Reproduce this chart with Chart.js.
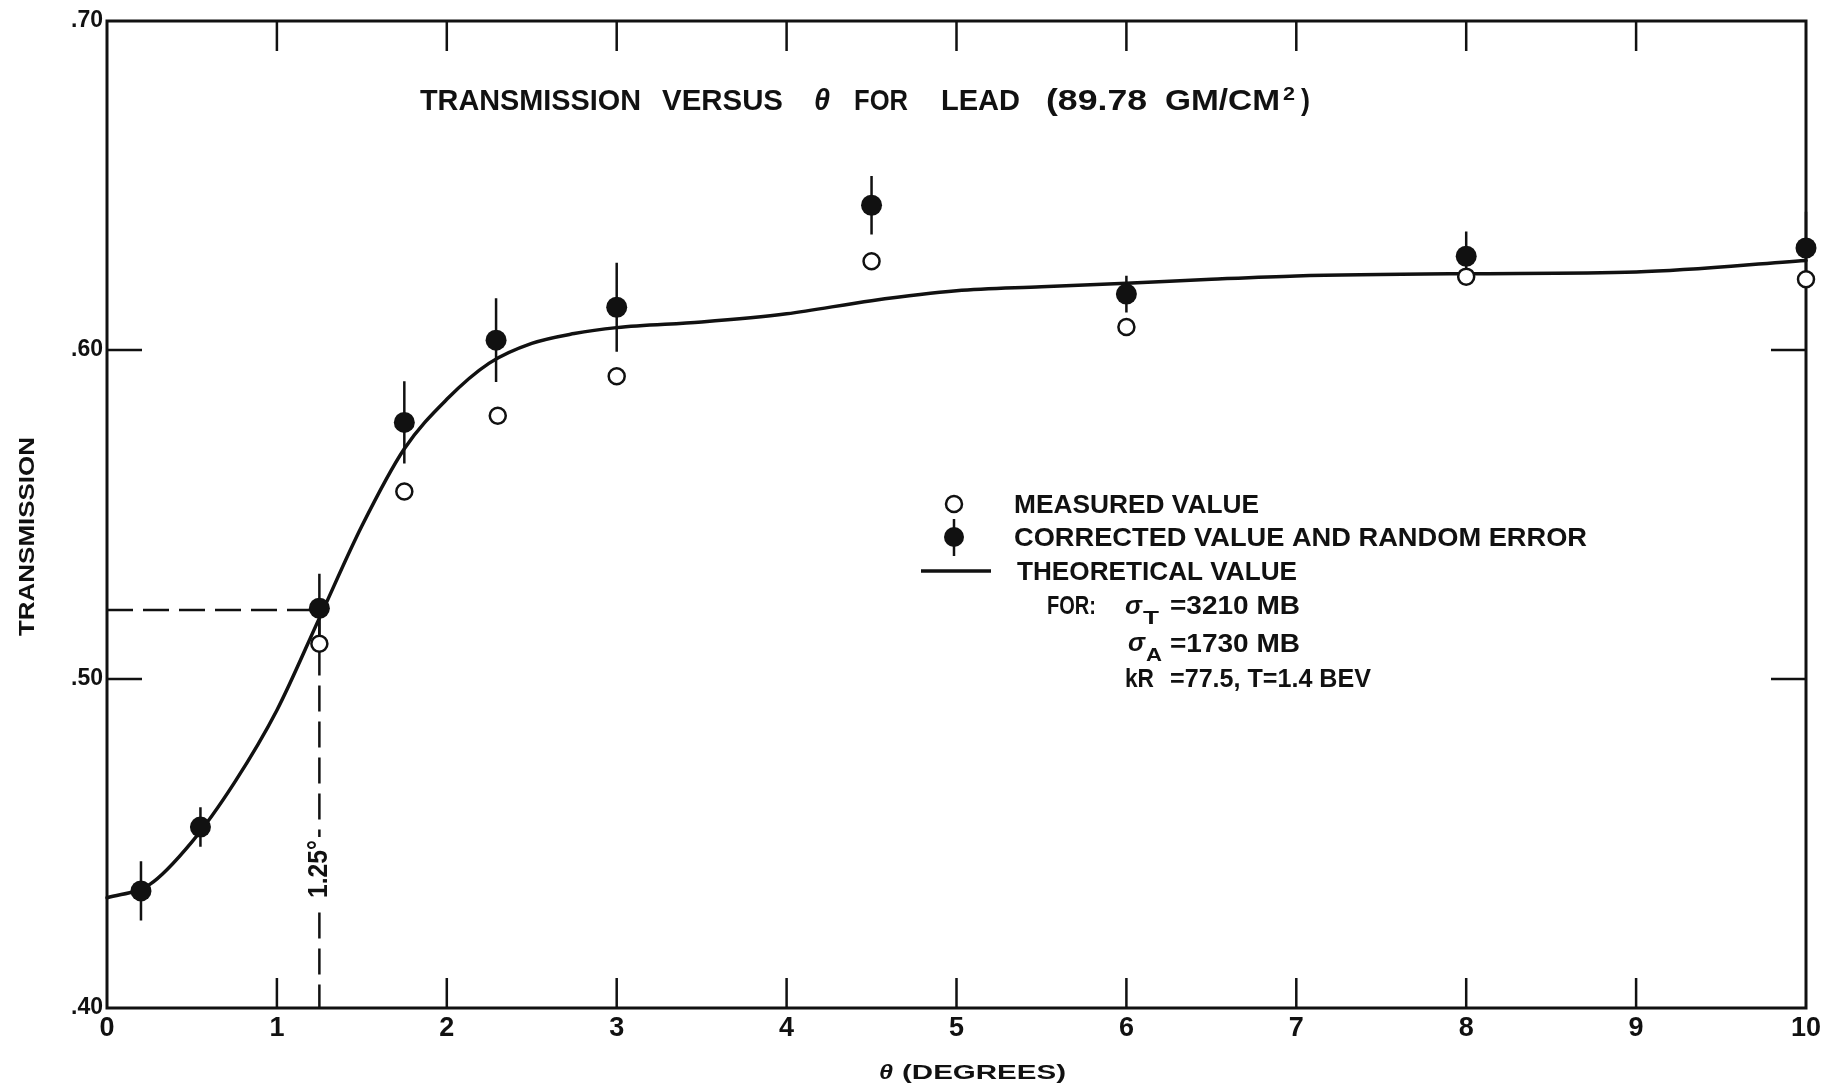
<!DOCTYPE html>
<html>
<head>
<meta charset="utf-8">
<title>Transmission versus θ for lead</title>
<script src="https://cdn.jsdelivr.net/npm/chart.js@4/dist/chart.umd.min.js"></script>
<style>
  html, body { margin: 0; padding: 0; background: #fff; }
  canvas { display: block; }
</style>
</head>
<body>
<canvas id="chart" width="1829" height="1086"></canvas>
<script>
// Corrected values with their random error (filled points)
const corrTheta = [0.20, 0.55, 1.25, 1.75, 2.29, 3.0, 4.5, 6.0, 8.0, 10.0];
const corrTrans = [0.4356, 0.455, 0.5215, 0.578, 0.603, 0.613, 0.644, 0.617, 0.6285, 0.631];
const corrError = [0.009, 0.006, 0.0105, 0.0125, 0.0127, 0.0135, 0.0089, 0.0056, 0.0075, 0.011];

// Measured values (open points)
const measTheta = [1.25, 1.75, 2.3, 3.0, 4.5, 6.0, 8.0, 10.0];
const measTrans = [0.5107, 0.557, 0.580, 0.592, 0.627, 0.607, 0.6223, 0.6215];

// Theoretical curve
const theoryTheta = [0, 0.25, 0.5, 0.75, 1.0, 1.25, 1.5, 1.75, 2.0, 2.25, 2.5, 2.75, 3.0,
                     3.5, 4.0, 4.5, 5.0, 5.5, 6.0, 6.5, 7.0, 8.0, 9.0, 10.0];
const theoryTrans = [0.4335, 0.4375, 0.4505, 0.4685, 0.4905, 0.5185, 0.5465, 0.5700, 0.5850,
                     0.5960, 0.6020, 0.6050, 0.6068, 0.6085, 0.6110, 0.6150, 0.6180, 0.6192,
                     0.6203, 0.6215, 0.6225, 0.6232, 0.6237, 0.6272];

// Half-way marker: θ = 1.25° at transmission 0.521;
// the vertical guide is broken where its "1.25°" label sits
const markTheta = 1.25;
const markTrans = 0.521;
const markLabelSpan = [0.452, 0.429];

// Axis ticks
const xTickValues = [0, 1, 2, 3, 4, 5, 6, 7, 8, 9, 10];
const xTickLabels = ['0', '1', '2', '3', '4', '5', '6', '7', '8', '9', '10'];
const yTickValues = [0.40, 0.50, 0.60, 0.70];
const yTickLabels = ['.40', '.50', '.60', '.70'];
const xInnerTicks = [1, 2, 3, 4, 5, 6, 7, 8, 9];
const yInnerTicks = [0.50, 0.60];

const INK = '#111';
const FONT = '"Liberation Sans", Arial, sans-serif';

// error bars: one segment per point, broken apart by null gaps
const errorSegments = [];
corrTheta.forEach((t, i) => {
  errorSegments.push({ x: t, y: corrTrans[i] - corrError[i] });
  errorSegments.push({ x: t, y: corrTrans[i] + corrError[i] });
  errorSegments.push({ x: t, y: null });
});

// text helper: draws a string, optionally squeezed/stretched to a width
function drawText(ctx, str, x, y, font, width, rotate) {
  ctx.save();
  ctx.font = font;
  ctx.fillStyle = INK;
  ctx.textAlign = 'left';
  ctx.textBaseline = 'alphabetic';
  const w = ctx.measureText(str).width;
  ctx.translate(x, y);
  if (rotate) ctx.rotate(rotate);
  if (width) ctx.scale(width / w, 1);
  ctx.fillText(str, 0, 0);
  ctx.restore();
}

// frame and inward tick marks
const framePlugin = {
  id: 'frame',
  beforeDatasetsDraw(chart) {
    const { ctx, chartArea: a, scales: { x, y } } = chart;
    ctx.save();
    ctx.strokeStyle = INK;
    ctx.lineWidth = 3;
    ctx.strokeRect(a.left, a.top, a.right - a.left, a.bottom - a.top);
    ctx.lineWidth = 2.5;
    ctx.beginPath();
    xInnerTicks.forEach(v => {
      const px = x.getPixelForValue(v);
      ctx.moveTo(px, a.bottom); ctx.lineTo(px, a.bottom - 30);
      ctx.moveTo(px, a.top); ctx.lineTo(px, a.top + 30);
    });
    yInnerTicks.forEach(v => {
      const py = y.getPixelForValue(v);
      ctx.moveTo(a.left, py); ctx.lineTo(a.left + 35, py);
      ctx.moveTo(a.right, py); ctx.lineTo(a.right - 35, py);
    });
    ctx.stroke();
    ctx.restore();
  }
};

// title, axis titles, key and annotations
const textPlugin = {
  id: 'texts',
  afterDraw(chart) {
    const ctx = chart.ctx;
    const B = 'bold 30px ' + FONT;
    // title
    drawText(ctx, 'TRANSMISSION', 420, 110, B, 221);
    drawText(ctx, 'VERSUS', 662, 110, B, 121);
    drawText(ctx, 'θ', 814, 110, 'italic bold 30px ' + FONT, 16);
    drawText(ctx, 'FOR', 854, 110, B, 54);
    drawText(ctx, 'LEAD', 941, 110, B, 79);
    drawText(ctx, '(89.78', 1046, 110, B, 101);
    drawText(ctx, 'GM/CM', 1165, 110, B, 115);
    drawText(ctx, '2', 1283, 100, 'bold 18px ' + FONT, 12);
    drawText(ctx, ')', 1301, 110, B, 9);

    // axis titles
    drawText(ctx, 'TRANSMISSION', 34, 636, 'bold 22px ' + FONT, 199, -Math.PI / 2);
    drawText(ctx, 'θ', 879, 1079, 'italic bold 21px ' + FONT, 14);
    drawText(ctx, '(DEGREES)', 902, 1079, 'bold 20px ' + FONT, 164);

    // angle label on the dashed marker
    const lx = chart.scales.x.getPixelForValue(markTheta) + 8;
    drawText(ctx, '1.25°', lx, 898, 'bold 28px ' + FONT, 58, -Math.PI / 2);

    // key
    ctx.save();
    ctx.strokeStyle = INK;
    ctx.fillStyle = '#fff';
    ctx.lineWidth = 2.5;
    ctx.beginPath(); ctx.arc(954, 504, 8, 0, Math.PI * 2); ctx.fill(); ctx.stroke();
    ctx.beginPath(); ctx.moveTo(954, 519); ctx.lineTo(954, 556); ctx.stroke();
    ctx.fillStyle = INK;
    ctx.beginPath(); ctx.arc(954, 537, 10, 0, Math.PI * 2); ctx.fill();
    ctx.lineWidth = 3.5;
    ctx.beginPath(); ctx.moveTo(921, 571); ctx.lineTo(991, 571); ctx.stroke();
    ctx.restore();

    const L = 'bold 25px ' + FONT;
    drawText(ctx, 'MEASURED VALUE', 1014, 513, L, 245);
    drawText(ctx, 'CORRECTED VALUE AND RANDOM ERROR', 1014, 546, L, 573);
    drawText(ctx, 'THEORETICAL VALUE', 1017, 580, L, 280);
    drawText(ctx, 'FOR:', 1047, 614, L, 49);
    drawText(ctx, 'σ', 1125, 614, 'italic bold 26px ' + FONT, 17);
    drawText(ctx, 'T', 1143, 624, 'bold 18px ' + FONT, 16);
    drawText(ctx, '=3210 MB', 1170, 614, L, 130);
    drawText(ctx, 'σ', 1128, 651, 'italic bold 26px ' + FONT, 17);
    drawText(ctx, 'A', 1146, 661, 'bold 18px ' + FONT, 16);
    drawText(ctx, '=1730 MB', 1170, 652, L, 130);
    drawText(ctx, 'kR', 1125, 687, L, 29);
    drawText(ctx, '=77.5, T=1.4 BEV', 1170, 687, L, 201);
  }
};

new Chart(document.getElementById('chart'), {
  type: 'scatter',
  data: {
    datasets: [
      {
        label: 'CORRECTED VALUE AND RANDOM ERROR',
        data: corrTheta.map((t, i) => ({ x: t, y: corrTrans[i] })),
        pointRadius: 10.5,
        pointBackgroundColor: INK,
        pointBorderColor: INK,
        pointBorderWidth: 0,
        clip: false,
        order: 0
      },
      {
        label: 'MEASURED VALUE',
        data: measTheta.map((t, i) => ({ x: t, y: measTrans[i] })),
        pointRadius: 8,
        pointBackgroundColor: '#fff',
        pointBorderColor: INK,
        pointBorderWidth: 2.5,
        clip: false,
        order: 1
      },
      {
        label: 'random error',
        type: 'line',
        data: errorSegments,
        borderColor: INK,
        borderWidth: 2.5,
        pointRadius: 0,
        spanGaps: false,
        clip: false,
        order: 2
      },
      {
        label: 'THEORETICAL VALUE',
        type: 'line',
        data: theoryTheta.map((t, i) => ({ x: t, y: theoryTrans[i] })),
        borderColor: INK,
        borderWidth: 3.5,
        pointRadius: 0,
        cubicInterpolationMode: 'monotone',
        tension: 0.4,
        borderCapStyle: 'round',
        clip: false,
        order: 3
      },
      {
        label: '1.25°',
        type: 'line',
        data: [
          { x: 0, y: markTrans },
          { x: markTheta, y: markTrans },
          { x: markTheta, y: markLabelSpan[0] },
          { x: markTheta, y: null },
          { x: markTheta, y: markLabelSpan[1] },
          { x: markTheta, y: 0.40 }
        ],
        borderColor: INK,
        borderWidth: 2.5,
        borderDash: [26, 10],
        pointRadius: 0,
        tension: 0,
        spanGaps: false,
        order: 4
      }
    ]
  },
  options: {
    responsive: false,
    animation: false,
    events: [],
    layout: { padding: { left: 0, right: 23, top: 21, bottom: 0 } },
    plugins: {
      legend: { display: false },
      tooltip: { enabled: false },
      title: { display: false }
    },
    scales: {
      x: {
        type: 'linear',
        min: 0,
        max: 10,
        afterBuildTicks(scale) { scale.ticks = xTickValues.map(v => ({ value: v })); },
        afterFit(scale) { scale.height = 78; },
        ticks: {
          autoSkip: false,
          maxRotation: 0,
          padding: 4,
          color: INK,
          font: { family: FONT, size: 27, weight: 'bold' },
          callback: (v) => xTickLabels[xTickValues.indexOf(v)]
        },
        grid: { display: false, drawTicks: false },
        border: { display: false }
      },
      y: {
        type: 'linear',
        min: 0.40,
        max: 0.70,
        afterBuildTicks(scale) { scale.ticks = yTickValues.map(v => ({ value: v })); },
        afterFit(scale) { scale.width = 107; },
        ticks: {
          padding: 4,
          color: INK,
          font: { family: FONT, size: 23, weight: 'bold' },
          callback: (v) => yTickLabels[yTickValues.findIndex(t => Math.abs(t - v) < 1e-6)]
        },
        grid: { display: false, drawTicks: false },
        border: { display: false }
      }
    }
  },
  plugins: [framePlugin, textPlugin]
});
</script>
</body>
</html>
